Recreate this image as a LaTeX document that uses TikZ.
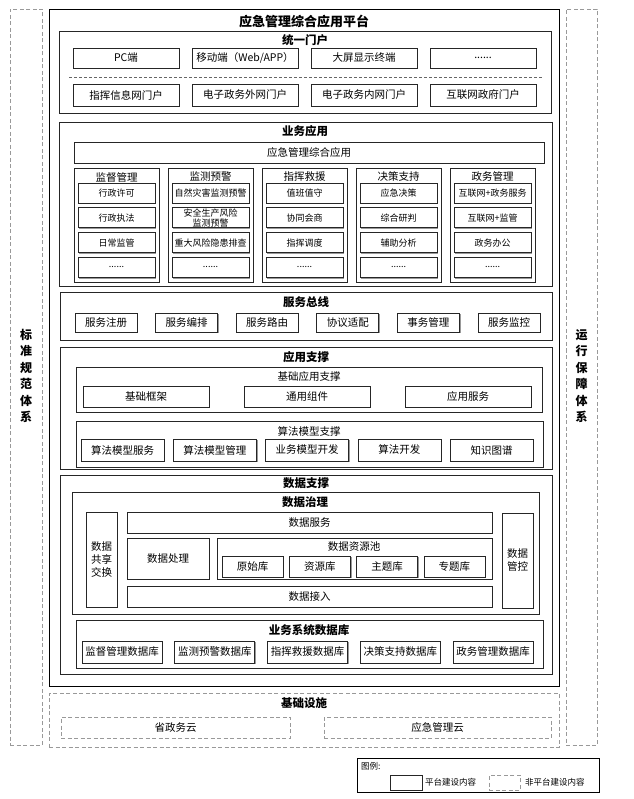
\documentclass[tikz,border=0pt]{standalone}
\usepackage{fontspec}
\setmainfont{Noto Sans CJK SC}
\usetikzlibrary{shadows}
\newcommand{\sixdots}{......}

\begin{document}
\begin{tikzpicture}[x=1pt, y=-1pt,
		sz/.style 2 args={minimum width=#1pt, minimum height=#2pt},
		frame/.style={draw=black, line width=0.9pt, inner sep=0pt},
		panel/.style={draw=black!85, fill=white, line width=0.8pt, inner sep=0pt,
			drop shadow={shadow xshift=1.2pt, shadow yshift=-1.2pt, fill=black!40, opacity=1}},
		box/.style={panel, align=center, font=\fontsize{10.5}{11.5}\selectfont},
		dbox/.style={draw=black!40, dash pattern=on 4pt off 2.5pt, line width=0.7pt, inner sep=0pt, align=center},
		ttl/.style={inner sep=0pt, font=\bfseries\fontsize{11.5}{12}\selectfont},
		sub/.style={inner sep=0pt, font=\fontsize{10.5}{11.5}\selectfont},
		side/.style={inner sep=0pt, align=center, font=\bfseries\fontsize{12}{16.5}\selectfont}]
		\useasboundingbox (0,0) rectangle (633,799);
		% side panels
		\node[dbox, sz={32}{736}] (std) at (26,377) {};
		\node[side] (stdtxt) at (26,376) {标\\准\\规\\范\\体\\系};
		\node[dbox, sz={31}{736}] (ops) at (581.5,377) {};
		\node[side] (opstxt) at (581.5,376) {运\\行\\保\\障\\体\\系};
		% platform
		\node[frame, sz={510}{677}] (plat) at (304,347.5) {};
		\node[ttl, font=\bfseries\fontsize{13}{14}\selectfont] (platttl) at (304,21) {应急管理综合应用平台};
		% unified portal
		\node[panel, sz={492}{82}] (portal) at (305,72) {};
		\node[ttl] (portalttl) at (305,40) {统一门户};
		\foreach \t [count=\i from 0] in {PC端, 移动端（Web/APP）, 大屏显示终端, \sixdots}
			\node[box, sz={106}{20}] (term\i) at (126+119*\i,58) {\t};
		\draw[black!60, dash pattern=on 3pt off 2pt] (69,77) -- (543,77);
		\foreach \t [count=\i from 0] in {指挥信息网门户, 电子政务外网门户, 电子政务内网门户, 互联网政府门户}
			\node[box, sz={106}{22}] (site\i) at (126+119*\i,95) {\t};
		% business applications
		\node[panel, sz={493}{164}] (biz) at (305.5,204) {};
		\node[ttl] (bizttl) at (305,131) {业务应用};
		\node[box, sz={470}{21}] (bizall) at (309,152.5) {应急管理综合应用};
		\foreach \ttl/\items [count=\i from 0] in {监督管理/{行政许可,行政执法,日常监管,\sixdots},
				监测预警/{自然灾害监测预警,{安全生产风险\\监测预警},重大风险隐患排查,\sixdots},
				指挥救援/{值班值守,协同会商,指挥调度,\sixdots},
				决策支持/{应急决策,综合研判,辅助分析,\sixdots},
				政务管理/{互联网+政务服务,互联网+监管,政务办公,\sixdots}} {
			\node[panel, sz={85}{114}] (col\i) at (116.5+94*\i,225) {};
			\node[sub] (colttl\i) at (116.5+94*\i,177) {\ttl};
			\foreach \itm [count=\j from 0] in \items
				\node[box, sz={77}{20}, font=\fontsize{9}{10}\selectfont] (col\i-\j) at (116.5+94*\i,193+24.8*\j) {\itm};
		}
		% service bus
		\node[panel, sz={492}{48}] (bus) at (306,316) {};
		\node[ttl] (busttl) at (306,302) {服务总线};
		\foreach \t [count=\i from 0] in {服务注册, 服务编排, 服务路由, 协议适配, 事务管理, 服务监控}
			\node[box, sz={62}{19}] (svc\i) at (106+80.6*\i,322.5) {\t};
		% application support
		\node[panel, sz={492}{122}] (appsup) at (306,408) {};
		\node[ttl] (appsupttl) at (306,357) {应用支撑};
		\node[panel, sz={466}{45}] (basic) at (309,389.5) {};
		\node[sub] (basicttl) at (309,377) {基础应用支撑};
		\foreach \t [count=\i from 0] in {基础框架, 通用组件, 应用服务}
			\node[box, sz={126}{21}] (basic\i) at (146+161*\i,396.5) {\t};
		\node[panel, sz={467}{46}] (algo) at (309.5,444) {};
		\node[sub] (algottl) at (309,431) {算法模型支撑};
		\foreach \t [count=\i from 0] in {算法模型服务, 算法模型管理, 业务模型开发, 算法开发, 知识图谱}
			\node[box, sz={83}{22}] (algo\i) at (122.5+92.3*\i,450) {\t};
		% data support
		\node[panel, sz={492}{199}] (datasup) at (306,574.5) {};
		\node[ttl] (datasupttl) at (306,483) {数据支撑};
		\node[panel, sz={467}{122}] (gov) at (305.5,553) {};
		\node[ttl] (govttl) at (305,502) {数据治理};
		\node[box, sz={31}{95}, font=\fontsize{10.5}{13}\selectfont] (share) at (101.5,559.5) {数据\\共享\\交换};
		\node[box, sz={31}{95}, font=\fontsize{10.5}{13}\selectfont] (ctrl) at (517.5,560.5) {数据\\管控};
		\node[box, sz={365}{21}] (dsvc) at (309.5,522.5) {数据服务};
		\node[box, sz={82}{41}] (dproc) at (168,558.5) {数据处理};
		\node[panel, sz={275}{41}] (pool) at (354.5,558.5) {};
		\node[sub] (poolttl) at (354,547) {数据资源池};
		\foreach \t [count=\i from 0] in {原始库, 资源库, 主题库, 专题库}
			\node[box, sz={61}{21}] (pool\i) at (252.5+67.3*\i,566.5) {\t};
		\node[box, sz={365}{21}] (din) at (309.5,596.5) {数据接入};
		\node[panel, sz={467}{48}] (bizdb) at (309.5,644) {};
		\node[ttl] (bizdbttl) at (309,630) {业务系统数据库};
		\foreach \t [count=\i from 0] in {监督管理数据库, 监测预警数据库, 指挥救援数据库, 决策支持数据库, 政务管理数据库}
			\node[box, sz={80}{22}] (db\i) at (122+92.75*\i,652) {\t};
		% infrastructure
		\node[dbox, sz={510}{54}] (infra) at (304,720) {};
		\node[ttl] (infrattl) at (304,703) {基础设施};
		\node[dbox, sz={229}{21}, font=\fontsize{10.5}{11.5}\selectfont] (cloudA) at (175.5,727.5) {省政务云};
		\node[dbox, sz={227}{21}, font=\fontsize{10.5}{11.5}\selectfont] (cloudB) at (437.5,727.5) {应急管理云};
		% legend
		\node[frame, line width=0.8pt, sz={242}{34}] (legend) at (478,775) {};
		\node[sub, anchor=west, font=\fontsize{8.5}{9}\selectfont] (legttl) at (361,766) {图例:};
		\node[draw=black!85, line width=0.8pt, inner sep=0pt, sz={32}{15}] (legA) at (406,782.5) {};
		\node[sub, anchor=west, font=\fontsize{8.5}{9}\selectfont] (legAtxt) at (425,782.5) {平台建设内容};
		\node[dbox, sz={31}{15}] (legB) at (504.5,782.5) {};
		\node[sub, anchor=west, font=\fontsize{8.5}{9}\selectfont] (legBtxt) at (525,782.5) {非平台建设内容};
	\end{tikzpicture}
\end{document}
